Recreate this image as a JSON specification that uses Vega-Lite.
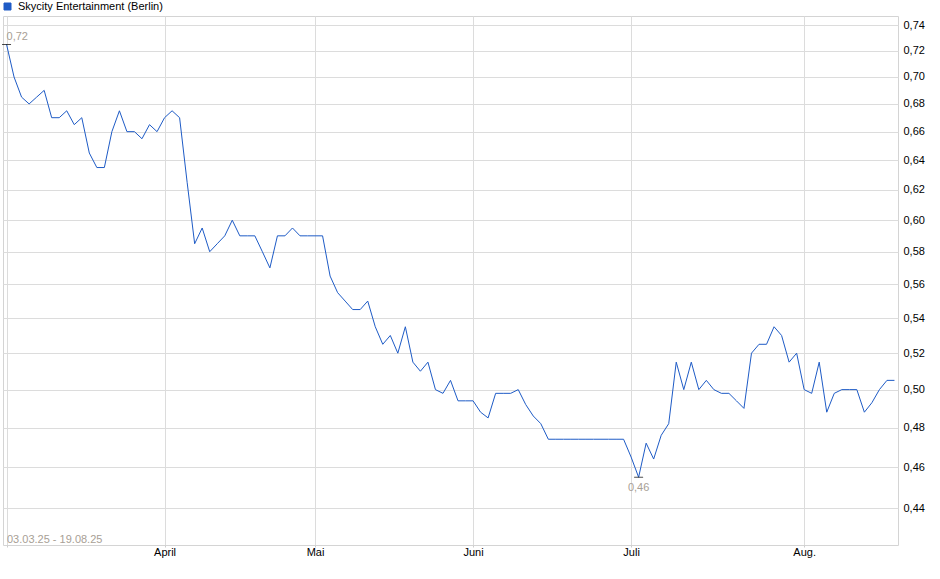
{
  "$schema": "https://vega.github.io/schema/vega-lite/v6.json",
  "autosize": "none",
  "width": 895,
  "height": 529,
  "padding": {"left": 3, "top": 16, "right": 42, "bottom": 34},
  "background": "#ffffff",
  "config": {
    "view": {"stroke": "#d4d4d4", "strokeWidth": 1},
    "font": "Liberation Sans"
  },
  "title": {
    "text": "03.03.25 - 19.08.25",
    "orient": "bottom",
    "anchor": "start",
    "frame": "group",
    "offset": -12,
    "dx": 4,
    "baseline": "bottom",
    "font": "Liberation Sans",
    "fontSize": 11,
    "fontWeight": "normal",
    "color": "#a8a095"
  },
  "datasets": {
    "prices": [
      {"date": "2025-03-03", "value": 0.725},
      {"date": "2025-03-04", "value": 0.70},
      {"date": "2025-03-05", "value": 0.685},
      {"date": "2025-03-06", "value": 0.68},
      {"date": "2025-03-07", "value": 0.685},
      {"date": "2025-03-10", "value": 0.69},
      {"date": "2025-03-11", "value": 0.67},
      {"date": "2025-03-12", "value": 0.67},
      {"date": "2025-03-13", "value": 0.675},
      {"date": "2025-03-14", "value": 0.665},
      {"date": "2025-03-17", "value": 0.67},
      {"date": "2025-03-18", "value": 0.645},
      {"date": "2025-03-19", "value": 0.635},
      {"date": "2025-03-20", "value": 0.635},
      {"date": "2025-03-21", "value": 0.66},
      {"date": "2025-03-24", "value": 0.675},
      {"date": "2025-03-25", "value": 0.66},
      {"date": "2025-03-26", "value": 0.66},
      {"date": "2025-03-27", "value": 0.655},
      {"date": "2025-03-28", "value": 0.665},
      {"date": "2025-03-31", "value": 0.66},
      {"date": "2025-04-01", "value": 0.67},
      {"date": "2025-04-02", "value": 0.675},
      {"date": "2025-04-03", "value": 0.67},
      {"date": "2025-04-04", "value": 0.625},
      {"date": "2025-04-07", "value": 0.585},
      {"date": "2025-04-08", "value": 0.595},
      {"date": "2025-04-09", "value": 0.58},
      {"date": "2025-04-10", "value": 0.585},
      {"date": "2025-04-11", "value": 0.59},
      {"date": "2025-04-14", "value": 0.60},
      {"date": "2025-04-15", "value": 0.59},
      {"date": "2025-04-16", "value": 0.59},
      {"date": "2025-04-17", "value": 0.59},
      {"date": "2025-04-22", "value": 0.58},
      {"date": "2025-04-23", "value": 0.57},
      {"date": "2025-04-24", "value": 0.59},
      {"date": "2025-04-25", "value": 0.59},
      {"date": "2025-04-28", "value": 0.595},
      {"date": "2025-04-29", "value": 0.59},
      {"date": "2025-04-30", "value": 0.59},
      {"date": "2025-05-02", "value": 0.59},
      {"date": "2025-05-05", "value": 0.59},
      {"date": "2025-05-06", "value": 0.565},
      {"date": "2025-05-07", "value": 0.555},
      {"date": "2025-05-08", "value": 0.55},
      {"date": "2025-05-09", "value": 0.545},
      {"date": "2025-05-12", "value": 0.545},
      {"date": "2025-05-13", "value": 0.55},
      {"date": "2025-05-14", "value": 0.535},
      {"date": "2025-05-15", "value": 0.525},
      {"date": "2025-05-16", "value": 0.53},
      {"date": "2025-05-19", "value": 0.52},
      {"date": "2025-05-20", "value": 0.535},
      {"date": "2025-05-21", "value": 0.515},
      {"date": "2025-05-22", "value": 0.51},
      {"date": "2025-05-23", "value": 0.515},
      {"date": "2025-05-26", "value": 0.50},
      {"date": "2025-05-27", "value": 0.498},
      {"date": "2025-05-28", "value": 0.505},
      {"date": "2025-05-29", "value": 0.494},
      {"date": "2025-05-30", "value": 0.494},
      {"date": "2025-06-02", "value": 0.494},
      {"date": "2025-06-03", "value": 0.488},
      {"date": "2025-06-04", "value": 0.485},
      {"date": "2025-06-05", "value": 0.498},
      {"date": "2025-06-06", "value": 0.498},
      {"date": "2025-06-09", "value": 0.498},
      {"date": "2025-06-10", "value": 0.50},
      {"date": "2025-06-11", "value": 0.492},
      {"date": "2025-06-12", "value": 0.486},
      {"date": "2025-06-13", "value": 0.482},
      {"date": "2025-06-16", "value": 0.474},
      {"date": "2025-06-17", "value": 0.474},
      {"date": "2025-06-18", "value": 0.474},
      {"date": "2025-06-19", "value": 0.474},
      {"date": "2025-06-20", "value": 0.474},
      {"date": "2025-06-23", "value": 0.474},
      {"date": "2025-06-24", "value": 0.474},
      {"date": "2025-06-25", "value": 0.474},
      {"date": "2025-06-26", "value": 0.474},
      {"date": "2025-06-27", "value": 0.474},
      {"date": "2025-06-30", "value": 0.474},
      {"date": "2025-07-01", "value": 0.465},
      {"date": "2025-07-02", "value": 0.455},
      {"date": "2025-07-03", "value": 0.472},
      {"date": "2025-07-04", "value": 0.464},
      {"date": "2025-07-07", "value": 0.476},
      {"date": "2025-07-08", "value": 0.482},
      {"date": "2025-07-09", "value": 0.515},
      {"date": "2025-07-10", "value": 0.50},
      {"date": "2025-07-11", "value": 0.515},
      {"date": "2025-07-14", "value": 0.50},
      {"date": "2025-07-15", "value": 0.505},
      {"date": "2025-07-16", "value": 0.50},
      {"date": "2025-07-17", "value": 0.498},
      {"date": "2025-07-18", "value": 0.498},
      {"date": "2025-07-21", "value": 0.494},
      {"date": "2025-07-22", "value": 0.49},
      {"date": "2025-07-23", "value": 0.52},
      {"date": "2025-07-24", "value": 0.525},
      {"date": "2025-07-25", "value": 0.525},
      {"date": "2025-07-28", "value": 0.535},
      {"date": "2025-07-29", "value": 0.53},
      {"date": "2025-07-30", "value": 0.515},
      {"date": "2025-07-31", "value": 0.52},
      {"date": "2025-08-01", "value": 0.50},
      {"date": "2025-08-04", "value": 0.498},
      {"date": "2025-08-05", "value": 0.515},
      {"date": "2025-08-06", "value": 0.488},
      {"date": "2025-08-07", "value": 0.498},
      {"date": "2025-08-08", "value": 0.50},
      {"date": "2025-08-11", "value": 0.50},
      {"date": "2025-08-12", "value": 0.50},
      {"date": "2025-08-13", "value": 0.488},
      {"date": "2025-08-14", "value": 0.493},
      {"date": "2025-08-15", "value": 0.50},
      {"date": "2025-08-18", "value": 0.505},
      {"date": "2025-08-19", "value": 0.505}
    ]
  },
  "encoding": {
    "x": {
      "field": "date",
      "type": "ordinal",
      "scale": {"type": "point", "padding": 0.47},
      "axis": {
        "title": null,
        "values": ["2025-03-03", "2025-04-01", "2025-05-02", "2025-06-02", "2025-07-01", "2025-08-01"],
        "labelExpr": "datum.value == '2025-04-01' ? 'April' : datum.value == '2025-05-02' ? 'Mai' : datum.value == '2025-06-02' ? 'Juni' : datum.value == '2025-07-01' ? 'Juli' : datum.value == '2025-08-01' ? 'Aug.' : ''",
        "labelAngle": 0,
        "labelFont": "Liberation Sans",
        "labelFontSize": 11,
        "labelColor": "#000000",
        "labelPadding": -1,
        "labelOverlap": false,
        "grid": true,
        "gridColor": "#dcdcdc",
        "gridWidth": 1,
        "ticks": true,
        "tickSize": 2,
        "tickColor": "#cccccc",
        "domain": false
      }
    },
    "y": {
      "field": "value",
      "type": "quantitative",
      "scale": {"type": "log", "domain": [0.423, 0.7475], "nice": false, "zero": false},
      "axis": {
        "orient": "right",
        "title": null,
        "values": [0.44, 0.46, 0.48, 0.5, 0.52, 0.54, 0.56, 0.58, 0.6, 0.62, 0.64, 0.66, 0.68, 0.7, 0.72, 0.74],
        "labelExpr": "replace(format(datum.value, '.2f'), '.', ',')",
        "labelFont": "Liberation Sans",
        "labelFontSize": 11,
        "labelColor": "#000000",
        "labelPadding": 5,
        "grid": true,
        "gridColor": "#dcdcdc",
        "gridWidth": 1,
        "ticks": false,
        "domain": false
      }
    }
  },
  "layer": [
    {
      "data": {"name": "prices"},
      "mark": {"type": "line", "strokeWidth": 1, "interpolate": "linear"},
      "encoding": {
        "color": {
          "datum": "Skycity Entertainment (Berlin)",
          "type": "nominal",
          "scale": {"range": ["#1e5bc6"]},
          "legend": {
            "title": null,
            "orient": "none",
            "legendX": -1,
            "legendY": -15,
            "padding": 0,
            "symbolType": "square",
            "symbolSize": 49,
            "symbolFillColor": "#1e5bc6",
            "symbolStrokeColor": "#1c2c54",
            "symbolStrokeWidth": 1,
            "labelFont": "Liberation Sans",
            "labelFontSize": 11,
            "labelColor": "#000000",
            "labelOffset": 5,
            "encode": {
              "symbols": {
                "update": {
                  "fill": {"value": "#1e5bc6"},
                  "stroke": {"value": "#1c2c54"},
                  "strokeWidth": {"value": 1},
                  "shape": {"value": "square"}
                }
              }
            }
          }
        }
      }
    },
    {
      "data": {"values": [{"date": "2025-03-03", "value": 0.725, "label": "0,72"}]},
      "mark": {"type": "tick", "color": "#000000", "size": 9, "thickness": 1},
      "encoding": {}
    },
    {
      "data": {"values": [{"date": "2025-03-03", "value": 0.725, "label": "0,72"}]},
      "mark": {"type": "text", "align": "left", "baseline": "alphabetic", "dy": -4, "font": "Liberation Sans", "fontSize": 11, "color": "#a8a095"},
      "encoding": {"text": {"field": "label"}}
    },
    {
      "data": {"values": [{"date": "2025-07-02", "value": 0.455, "label": "0,46"}]},
      "mark": {"type": "tick", "color": "#000000", "size": 9, "thickness": 1},
      "encoding": {}
    },
    {
      "data": {"values": [{"date": "2025-07-02", "value": 0.455, "label": "0,46"}]},
      "mark": {"type": "text", "align": "center", "baseline": "alphabetic", "dy": 14, "font": "Liberation Sans", "fontSize": 11, "color": "#a8a095"},
      "encoding": {"text": {"field": "label"}}
    }
  ]
}
